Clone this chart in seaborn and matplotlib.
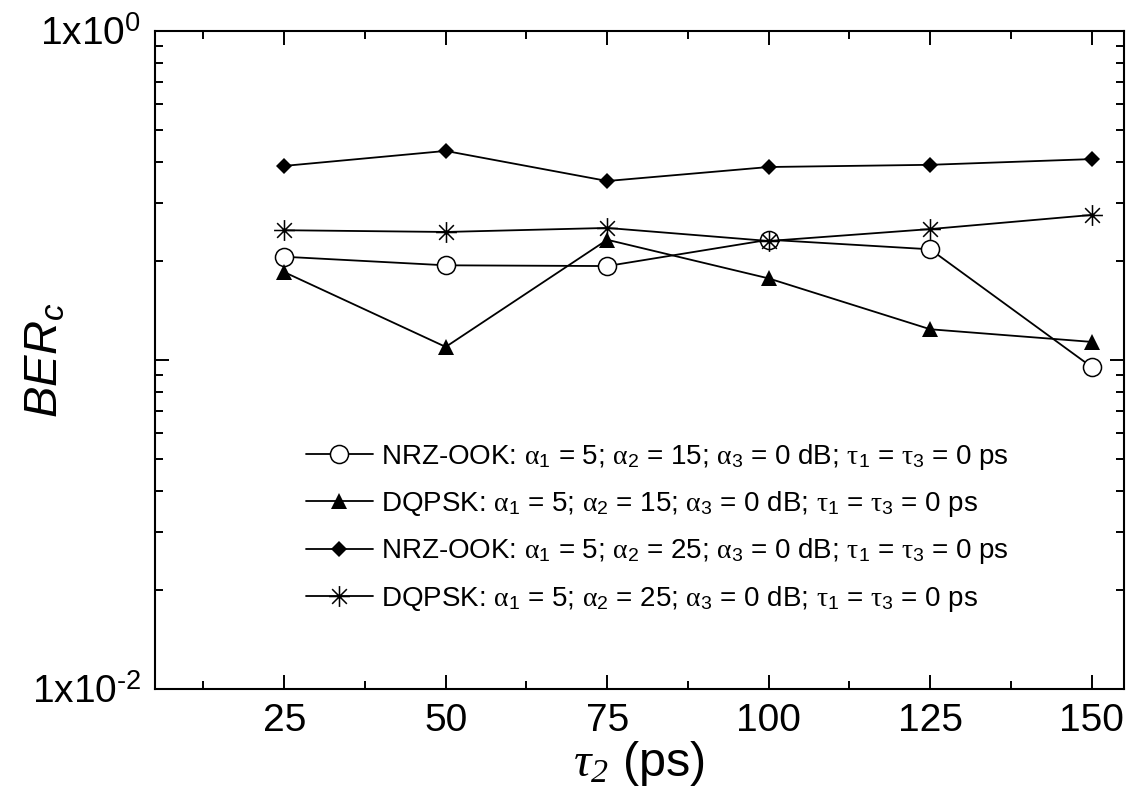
import numpy as np
import pandas as pd
import matplotlib
matplotlib.use('Agg')
import matplotlib.pyplot as plt
from matplotlib.path import Path
from matplotlib.ticker import FixedLocator, FixedFormatter, LogLocator, NullFormatter
import seaborn as sns

# data
tau2 = [25, 50, 75, 100, 125, 150]
nrz_a15 = [0.206, 0.194, 0.193, 0.232, 0.217, 0.0952]
dqpsk_a15 = [0.185, 0.1096, 0.232, 0.177, 0.124, 0.1135]
nrz_a25 = [0.389, 0.432, 0.350, 0.386, 0.392, 0.408]
dqpsk_a25 = [0.248, 0.245, 0.252, 0.230, 0.250, 0.276]

labels = [
    r'NRZ-OOK: $\alpha_1$ = 5; $\alpha_2$ = 15; $\alpha_3$ = 0 dB; $\tau_1$ = $\tau_3$ = 0 ps',
    r'DQPSK: $\alpha_1$ = 5; $\alpha_2$ = 15; $\alpha_3$ = 0 dB; $\tau_1$ = $\tau_3$ = 0 ps',
    r'NRZ-OOK: $\alpha_1$ = 5; $\alpha_2$ = 25; $\alpha_3$ = 0 dB; $\tau_1$ = $\tau_3$ = 0 ps',
    r'DQPSK: $\alpha_1$ = 5; $\alpha_2$ = 25; $\alpha_3$ = 0 dB; $\tau_1$ = $\tau_3$ = 0 ps',
]
ytick_labels = [r'1x10$^{\text{-2}}$', '', r'1x10$^{0}$']

sns.set_style('ticks')
plt.rcParams['font.family'] = ['Liberation Sans', 'DejaVu Sans']
plt.rcParams['axes.unicode_minus'] = False
plt.rcParams['text.color'] = 'black'
plt.rcParams['axes.labelcolor'] = 'black'
plt.rcParams['mathtext.fontset'] = 'custom'
plt.rcParams['mathtext.rm'] = 'Liberation Sans'
plt.rcParams['mathtext.it'] = 'Liberation Serif'
plt.rcParams['mathtext.sf'] = 'Liberation Serif:italic'
plt.rcParams['mathtext.bf'] = 'Liberation Sans:italic'

# asterisk marker: vertical, horizontal and both diagonals
d = np.sqrt(0.5)
star = Path([(0, -1), (0, 1), (-1, 0), (1, 0), (-d, -d), (d, d), (-d, d), (d, -d)],
            [Path.MOVETO, Path.LINETO] * 4)

series = [
    (nrz_a15, dict(marker='o', markersize=13, markerfacecolor='white', markeredgewidth=1.1)),
    (dqpsk_a15, dict(marker='^', markersize=12, markerfacecolor='black', markeredgewidth=0)),
    (nrz_a25, dict(marker='D', markersize=8, markerfacecolor='black', markeredgewidth=0)),
    (dqpsk_a25, dict(marker=star, markersize=15, markerfacecolor='none', markeredgewidth=1.1)),
]

fig = plt.figure(figsize=(11.34, 7.96), dpi=100)
ax = fig.add_axes([155 / 1134, 1 - 689 / 796, (1124 - 155) / 1134, (689 - 31) / 796])

for (vals, mk), lab in zip(series, labels):
    sns.lineplot(x=tau2, y=vals, ax=ax, color='black', linewidth=1.3,
                 markeredgecolor='black', label=lab, **mk)

ax.set_yscale('log')
ax.set_xlim(5, 155)
ax.set_ylim(1e-2, 1e0)

ax.xaxis.set_major_locator(FixedLocator(tau2))
ax.xaxis.set_minor_locator(FixedLocator([12.5, 37.5, 62.5, 87.5, 112.5, 137.5]))
ax.yaxis.set_major_locator(FixedLocator([1e-2, 1e-1, 1e0]))
ax.yaxis.set_major_formatter(FixedFormatter(ytick_labels))
ax.yaxis.set_minor_locator(LogLocator(base=10, subs=np.arange(2, 10)))
ax.yaxis.set_minor_formatter(NullFormatter())

ax.tick_params(which='both', direction='in', top=True, right=True, width=1.4,
               labelsize=28, pad=10, colors='black')
ax.tick_params(which='major', length=10)
ax.tick_params(which='minor', length=6)
for s in ax.spines.values():
    s.set_linewidth(1.5)
    s.set_color('black')

ax.set_xlabel(r'$\mathsf{\tau_2}$ (ps)', fontsize=35, labelpad=0)
ax.set_ylabel(r'$\mathbf{BER_c}$', fontsize=34)
ax.yaxis.set_label_coords(-0.09, 0.5)

leg = ax.legend(loc='upper left', bbox_to_anchor=(292 / 1134, 1 - 428 / 796),
                bbox_transform=fig.transFigure, frameon=False, borderpad=0,
                handlelength=2.4, handletextpad=0.3, labelspacing=0.62,
                prop={'family': ['Liberation Sans Narrow', 'Liberation Sans'], 'size': 20})

fig.savefig('out.png', dpi=100)
